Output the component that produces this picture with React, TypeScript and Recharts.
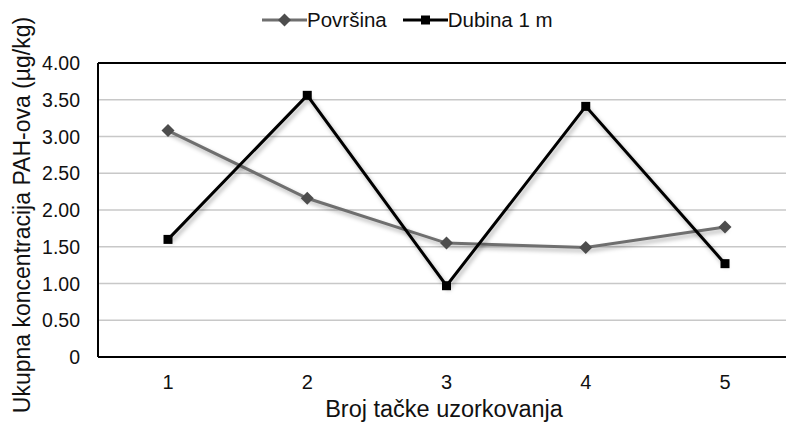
import { CartesianGrid, Line, LineChart, ReferenceLine, XAxis, YAxis } from 'recharts'

const points = ['1', '2', '3', '4', '5']
const povrsina = [3.08, 2.16, 1.55, 1.49, 1.77]
const dubina = [1.6, 3.56, 0.97, 3.41, 1.27]
const yTicks = [0, 0.5, 1, 1.5, 2, 2.5, 3, 3.5, 4]

const seriesNames = { povrsina: 'Površina', dubina: 'Dubina 1 m' }

const data = points.map((p, i) => ({ point: p, povrsina: povrsina[i], dubina: dubina[i] }))

const FONT = '"Liberation Sans", Arial, sans-serif'

function Diamond({ cx, cy }: any) {
  if (cx == null || cy == null) return null
  const r = 6.5
  return <path d={`M${cx},${cy - r}L${cx + r},${cy}L${cx},${cy + r}L${cx - r},${cy}Z`} fill="#4d4d4d" />
}

function Square({ cx, cy }: any) {
  if (cx == null || cy == null) return null
  return <rect x={cx - 4.5} y={cy - 4.5} width={9} height={9} fill="#000" />
}

function XTick({ x, y, payload }: any) {
  return (
    <text x={x} y={y + 14} textAnchor="middle" fontSize={20} fill="#111" fontFamily={FONT}>
      {payload.value}
    </text>
  )
}

function YTick({ x, y, payload }: any) {
  const v = payload.value as number
  return (
    <text x={x} y={y + 7} textAnchor="end" fontSize={19.5} fill="#111" fontFamily={FONT}>
      {v === 0 ? '0' : v.toFixed(2)}
    </text>
  )
}

function LegendItem({ name, square }: { name: string; square: boolean }) {
  return (
    <div style={{ display: 'flex', alignItems: 'center', flexShrink: 0 }}>
      <svg width={45} height={14} style={{ flexShrink: 0 }}>
        <line x1={0} y1={7} x2={45} y2={7} stroke={square ? '#000' : '#6f6f6f'} strokeWidth={3} />
        {square ? <rect x={18} y={2.5} width={9} height={9} fill="#000" /> : <path d="M22.5,0.5L29,7L22.5,13.5L16,7Z" fill="#4d4d4d" />}
      </svg>
      <span style={{ whiteSpace: 'nowrap' }}>{name}</span>
    </div>
  )
}

export default function App() {
  return (
    <div style={{ position: 'fixed', left: 0, top: 0, width: 786, height: 423, overflow: 'hidden', background: '#fff', fontFamily: FONT }}>
      <style>{`.recharts-line { filter: drop-shadow(2px 3px 2px rgba(0,0,0,0.3)); }`}</style>
      <div style={{ position: 'absolute', left: 262, top: 7, height: 26, display: 'flex', gap: 16, fontSize: 20.5, color: '#111', lineHeight: '26px' }}>
        <LegendItem name={seriesNames.povrsina} square={false} />
        <LegendItem name={seriesNames.dubina} square={true} />
      </div>
      <LineChart width={795} height={423} data={data} margin={{ top: 63, right: 0, bottom: 0, left: 0 }}>
        <CartesianGrid vertical={false} stroke="#c8c8c8" strokeWidth={1.5} />
        <XAxis
          dataKey="point"
          height={66}
          padding={{ left: 70, right: 70 }}
          axisLine={{ stroke: '#000', strokeWidth: 2 }}
          tickLine={false}
          tickSize={0}
          tickMargin={18}
          tick={<XTick />}
          label={{
            content: () => (
              <text x={444} y={417} textAnchor="middle" fontSize={23.5} fill="#111" fontFamily={FONT}>
                Broj tačke uzorkovanja
              </text>
            ),
          }}
        />
        <YAxis
          width={98}
          domain={[0, 4]}
          ticks={yTicks}
          interval={0}
          axisLine={{ stroke: '#000', strokeWidth: 2 }}
          tickLine={false}
          tickSize={0}
          tickMargin={18}
          tick={<YTick />}
          label={{
            content: () => (
              <text x={30} y={215} transform="rotate(-90, 30, 215)" textAnchor="middle" fontSize={23} fill="#111" fontFamily={FONT}>
                Ukupna koncentracija PAH-ova (µg/kg)
              </text>
            ),
          }}
        />
        <ReferenceLine y={4} stroke="#000" strokeWidth={2} />
        <Line dataKey="povrsina" name={seriesNames.povrsina} stroke="#6f6f6f" strokeWidth={3} dot={<Diamond />} activeDot={false} isAnimationActive={false} />
        <Line dataKey="dubina" name={seriesNames.dubina} stroke="#000" strokeWidth={3} dot={<Square />} activeDot={false} isAnimationActive={false} />
      </LineChart>
    </div>
  )
}
